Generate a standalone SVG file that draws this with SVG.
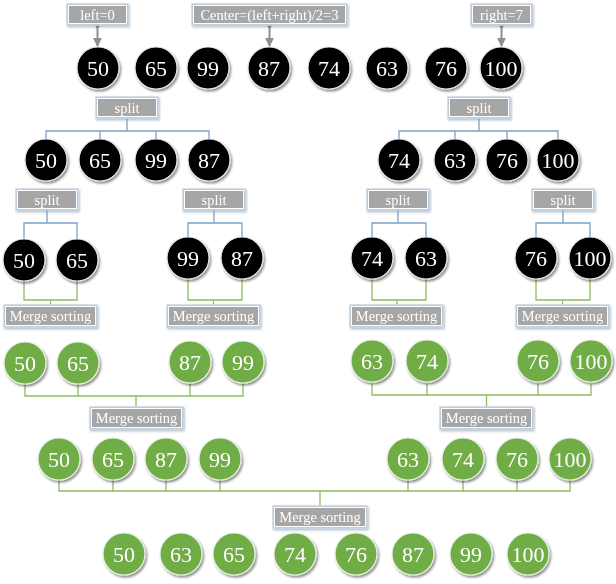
<svg xmlns="http://www.w3.org/2000/svg" width="616" height="584" viewBox="0 0 616 584">
<defs>
<filter id="sh" x="-30%" y="-30%" width="170%" height="170%">
<feDropShadow dx="1.5" dy="2" stdDeviation="1.2" flood-color="#000" flood-opacity="0.45"/>
</filter>
<filter id="bsh" x="-20%" y="-40%" width="140%" height="190%">
<feDropShadow dx="1" dy="1.5" stdDeviation="1" flood-color="#7f93a8" flood-opacity="0.6"/>
</filter>
<marker id="ah" viewBox="0 0 10 10" refX="9" refY="5" markerWidth="4.5" markerHeight="4.5" orient="auto" markerUnits="strokeWidth">
<path d="M0,0 L10,5 L0,10 z" fill="#8f8f8f"/>
</marker>
<marker id="dot" viewBox="0 0 10 10" refX="5" refY="5" markerWidth="2.5" markerHeight="2.5" markerUnits="strokeWidth">
<circle cx="5" cy="5" r="4" fill="#6f6f6f"/>
</marker>
</defs>
<style>
.bx rect.o{fill:#a6a6a6;stroke:#c9d8e6;stroke-width:1.5}
.bx rect.i{fill:none;stroke:#ffffff;stroke-width:1}
.bx text{font-family:"Liberation Serif","Times New Roman",serif;font-size:14.5px;fill:#ffffff;text-anchor:middle}
.k circle{fill:#000;stroke:#e6e6e6;stroke-width:1.2}
.g circle{fill:#70ad47;stroke:#e8f0e0;stroke-width:1.2}
.n text{font-family:"Liberation Serif","Times New Roman",serif;font-size:22px;fill:#fff;text-anchor:middle}
.bl{fill:none;stroke:#7aa1c9;stroke-width:1.3}
.gl{fill:none;stroke:#8dbb5f;stroke-width:1.3}
.ar{fill:none;stroke:#8f8f8f;stroke-width:2;marker-end:url(#ah);marker-start:url(#dot)}
</style>

<g id="connectors">
<path class="ar" d="M97.5,26 V46"/>
<path class="ar" d="M269.5,26 V46"/>
<path class="ar" d="M501.5,26 V46"/>
<path class="bl" d="M127,118 V131 M46,140 V131 H209 V140 M100,131 V140 M156,131 V140"/>
<path class="bl" d="M479,118 V131 M399,140 V131 H558 V140 M455,131 V140 M507,131 V140"/>
<path class="bl" d="M47,210 V223 M24,239 V223 H77 V239"/>
<path class="bl" d="M214,210 V223 M188,238 V223 H242 V238"/>
<path class="bl" d="M398,210 V223 M372,238 V223 H426 V238"/>
<path class="bl" d="M563,210 V223 M536,238 V223 H590 V238"/>
<path class="gl" d="M24,281 V300 H77 V281 M50.5,300 V305"/>
<path class="gl" d="M188,279 V300 H242 V279 M213.5,300 V305"/>
<path class="gl" d="M372,279 V300 H426 V279 M397,300 V305"/>
<path class="gl" d="M536,279 V300 H590 V279 M562.5,300 V305"/>
<path class="gl" d="M25,384 V396 H243 V384 M78,384 V396 M190,384 V396 M136,396 V407"/>
<path class="gl" d="M372,384 V395 H591 V384 M427,384 V395 M538,384 V395 M486.5,395 V407"/>
<path class="gl" d="M59,480 V491 H570 V480 M113,480 V491 M166,480 V491 M220,480 V491 M408,480 V491 M463,480 V491 M517,480 V491 M320,491 V506"/>
</g>

<g id="lbl-left" class="bx" filter="url(#bsh)"><rect class="o" x="67" y="4" width="61" height="21"/><rect class="i" x="68.5" y="5.5" width="58" height="18"/><text x="97.5" y="19.5">left=0</text></g>
<g id="lbl-center" class="bx" filter="url(#bsh)"><rect class="o" x="192" y="4" width="155" height="21"/><rect class="i" x="193.5" y="5.5" width="152" height="18"/><text x="269.5" y="19.5">Center=(left+right)/2=3</text></g>
<g id="lbl-right" class="bx" filter="url(#bsh)"><rect class="o" x="471" y="4" width="61" height="21"/><rect class="i" x="472.5" y="5.5" width="58" height="18"/><text x="501.5" y="19.5">right=7</text></g>

<g id="split-1a" class="bx" filter="url(#bsh)"><rect class="o" x="96" y="97" width="62" height="21"/><rect class="i" x="97.5" y="98.5" width="59" height="18"/><text x="127" y="112.5">split</text></g>
<g id="split-1b" class="bx" filter="url(#bsh)"><rect class="o" x="448" y="97" width="62" height="21"/><rect class="i" x="449.5" y="98.5" width="59" height="18"/><text x="479" y="112.5">split</text></g>
<g id="split-2a" class="bx" filter="url(#bsh)"><rect class="o" x="16" y="189" width="62" height="21"/><rect class="i" x="17.5" y="190.5" width="59" height="18"/><text x="47" y="204.5">split</text></g>
<g id="split-2b" class="bx" filter="url(#bsh)"><rect class="o" x="183" y="189" width="62" height="21"/><rect class="i" x="184.5" y="190.5" width="59" height="18"/><text x="214" y="204.5">split</text></g>
<g id="split-2c" class="bx" filter="url(#bsh)"><rect class="o" x="367" y="189" width="62" height="21"/><rect class="i" x="368.5" y="190.5" width="59" height="18"/><text x="398" y="204.5">split</text></g>
<g id="split-2d" class="bx" filter="url(#bsh)"><rect class="o" x="532" y="189" width="62" height="21"/><rect class="i" x="533.5" y="190.5" width="59" height="18"/><text x="563" y="204.5">split</text></g>

<g id="merge-3a" class="bx" filter="url(#bsh)"><rect class="o" x="4" y="305" width="93" height="22"/><rect class="i" x="5.5" y="306.5" width="90" height="19"/><text x="50.5" y="321">Merge sorting</text></g>
<g id="merge-3b" class="bx" filter="url(#bsh)"><rect class="o" x="167" y="305" width="93" height="22"/><rect class="i" x="168.5" y="306.5" width="90" height="19"/><text x="213.5" y="321">Merge sorting</text></g>
<g id="merge-3c" class="bx" filter="url(#bsh)"><rect class="o" x="350" y="305" width="93" height="22"/><rect class="i" x="351.5" y="306.5" width="90" height="19"/><text x="396.5" y="321">Merge sorting</text></g>
<g id="merge-3d" class="bx" filter="url(#bsh)"><rect class="o" x="516" y="305" width="93" height="22"/><rect class="i" x="517.5" y="306.5" width="90" height="19"/><text x="562.5" y="321">Merge sorting</text></g>
<g id="merge-4a" class="bx" filter="url(#bsh)"><rect class="o" x="90" y="407" width="93" height="22"/><rect class="i" x="91.5" y="408.5" width="90" height="19"/><text x="136.5" y="423">Merge sorting</text></g>
<g id="merge-4b" class="bx" filter="url(#bsh)"><rect class="o" x="440" y="407" width="93" height="22"/><rect class="i" x="441.5" y="408.5" width="90" height="19"/><text x="486.5" y="423">Merge sorting</text></g>
<g id="merge-5" class="bx" filter="url(#bsh)"><rect class="o" x="273" y="506" width="94" height="22"/><rect class="i" x="274.5" y="507.5" width="91" height="19"/><text x="320" y="522">Merge sorting</text></g>

<g id="row1" class="k n">
<g id="r1-50" filter="url(#sh)"><circle cx="98" cy="68" r="21"/><text x="98" y="75.5">50</text></g>
<g id="r1-65" filter="url(#sh)"><circle cx="156" cy="68" r="21"/><text x="156" y="75.5">65</text></g>
<g id="r1-99" filter="url(#sh)"><circle cx="208" cy="68" r="21"/><text x="208" y="75.5">99</text></g>
<g id="r1-87" filter="url(#sh)"><circle cx="269" cy="68" r="21"/><text x="269" y="75.5">87</text></g>
<g id="r1-74" filter="url(#sh)"><circle cx="329" cy="68" r="21"/><text x="329" y="75.5">74</text></g>
<g id="r1-63" filter="url(#sh)"><circle cx="387" cy="68" r="21"/><text x="387" y="75.5">63</text></g>
<g id="r1-76" filter="url(#sh)"><circle cx="446" cy="68" r="21"/><text x="446" y="75.5">76</text></g>
<g id="r1-100" filter="url(#sh)"><circle cx="501" cy="68" r="21"/><text x="501" y="75.5">100</text></g>
</g>

<g id="row2" class="k n">
<g id="r2-50" filter="url(#sh)"><circle cx="46" cy="160" r="21"/><text x="46" y="167.5">50</text></g>
<g id="r2-65" filter="url(#sh)"><circle cx="100" cy="160" r="21"/><text x="100" y="167.5">65</text></g>
<g id="r2-99" filter="url(#sh)"><circle cx="156" cy="160" r="21"/><text x="156" y="167.5">99</text></g>
<g id="r2-87" filter="url(#sh)"><circle cx="209" cy="160" r="21"/><text x="209" y="167.5">87</text></g>
<g id="r2-74" filter="url(#sh)"><circle cx="399" cy="160" r="21"/><text x="399" y="167.5">74</text></g>
<g id="r2-63" filter="url(#sh)"><circle cx="455" cy="160" r="21"/><text x="455" y="167.5">63</text></g>
<g id="r2-76" filter="url(#sh)"><circle cx="507" cy="160" r="21"/><text x="507" y="167.5">76</text></g>
<g id="r2-100" filter="url(#sh)"><circle cx="558" cy="160" r="21"/><text x="558" y="167.5">100</text></g>
</g>

<g id="row3" class="k n">
<g id="r3-50" filter="url(#sh)"><circle cx="24" cy="260" r="21"/><text x="24" y="267.5">50</text></g>
<g id="r3-65" filter="url(#sh)"><circle cx="77" cy="260" r="21"/><text x="77" y="267.5">65</text></g>
<g id="r3-99" filter="url(#sh)"><circle cx="188" cy="258" r="21"/><text x="188" y="265.5">99</text></g>
<g id="r3-87" filter="url(#sh)"><circle cx="242" cy="258" r="21"/><text x="242" y="265.5">87</text></g>
<g id="r3-74" filter="url(#sh)"><circle cx="372" cy="258" r="21"/><text x="372" y="265.5">74</text></g>
<g id="r3-63" filter="url(#sh)"><circle cx="426" cy="258" r="21"/><text x="426" y="265.5">63</text></g>
<g id="r3-76" filter="url(#sh)"><circle cx="536" cy="258" r="21"/><text x="536" y="265.5">76</text></g>
<g id="r3-100" filter="url(#sh)"><circle cx="590" cy="258" r="21"/><text x="590" y="265.5">100</text></g>
</g>

<g id="row4" class="g n">
<g id="r4-50" filter="url(#sh)"><circle cx="25" cy="363" r="21"/><text x="25" y="370.5">50</text></g>
<g id="r4-65" filter="url(#sh)"><circle cx="78" cy="363" r="21"/><text x="78" y="370.5">65</text></g>
<g id="r4-87" filter="url(#sh)"><circle cx="190" cy="362" r="21"/><text x="190" y="369.5">87</text></g>
<g id="r4-99" filter="url(#sh)"><circle cx="243" cy="362" r="21"/><text x="243" y="369.5">99</text></g>
<g id="r4-63" filter="url(#sh)"><circle cx="372" cy="361" r="21"/><text x="372" y="368.5">63</text></g>
<g id="r4-74" filter="url(#sh)"><circle cx="427" cy="361" r="21"/><text x="427" y="368.5">74</text></g>
<g id="r4-76" filter="url(#sh)"><circle cx="538" cy="361" r="21"/><text x="538" y="368.5">76</text></g>
<g id="r4-100" filter="url(#sh)"><circle cx="591" cy="361" r="21"/><text x="591" y="368.5">100</text></g>
</g>

<g id="row5" class="g n">
<g id="r5-50" filter="url(#sh)"><circle cx="59" cy="459" r="21"/><text x="59" y="466.5">50</text></g>
<g id="r5-65" filter="url(#sh)"><circle cx="113" cy="459" r="21"/><text x="113" y="466.5">65</text></g>
<g id="r5-87" filter="url(#sh)"><circle cx="166" cy="459" r="21"/><text x="166" y="466.5">87</text></g>
<g id="r5-99" filter="url(#sh)"><circle cx="220" cy="459" r="21"/><text x="220" y="466.5">99</text></g>
<g id="r5-63" filter="url(#sh)"><circle cx="408" cy="459" r="21"/><text x="408" y="466.5">63</text></g>
<g id="r5-74" filter="url(#sh)"><circle cx="463" cy="459" r="21"/><text x="463" y="466.5">74</text></g>
<g id="r5-76" filter="url(#sh)"><circle cx="517" cy="459" r="21"/><text x="517" y="466.5">76</text></g>
<g id="r5-100" filter="url(#sh)"><circle cx="570" cy="459" r="21"/><text x="570" y="466.5">100</text></g>
</g>

<g id="row6" class="g n">
<g id="r6-50" filter="url(#sh)"><circle cx="124" cy="554" r="21"/><text x="124" y="561.5">50</text></g>
<g id="r6-63" filter="url(#sh)"><circle cx="181" cy="554" r="21"/><text x="181" y="561.5">63</text></g>
<g id="r6-65" filter="url(#sh)"><circle cx="234" cy="554" r="21"/><text x="234" y="561.5">65</text></g>
<g id="r6-74" filter="url(#sh)"><circle cx="295" cy="554" r="21"/><text x="295" y="561.5">74</text></g>
<g id="r6-76" filter="url(#sh)"><circle cx="356" cy="554" r="21"/><text x="356" y="561.5">76</text></g>
<g id="r6-87" filter="url(#sh)"><circle cx="413" cy="554" r="21"/><text x="413" y="561.5">87</text></g>
<g id="r6-99" filter="url(#sh)"><circle cx="471" cy="554" r="21"/><text x="471" y="561.5">99</text></g>
<g id="r6-100" filter="url(#sh)"><circle cx="528" cy="554" r="21"/><text x="528" y="561.5">100</text></g>
</g>
</svg>
